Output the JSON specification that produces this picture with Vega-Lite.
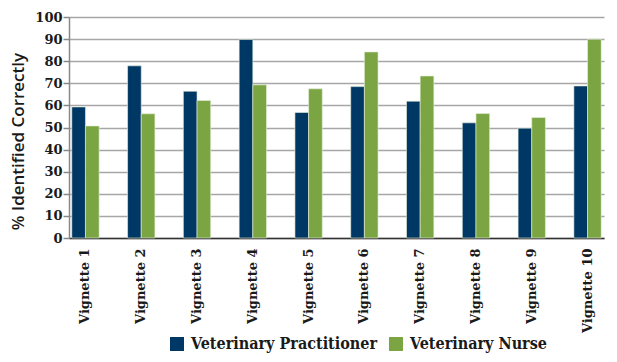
{
  "$schema": "https://vega.github.io/schema/vega-lite/v6.json",
  "width": 535,
  "height": 221,
  "autosize": "none",
  "padding": {"left": 69, "top": 17, "right": 13, "bottom": 124},
  "background": "white",
  "data": {"values": [
    {"v": "Vignette 1", "g": "Veterinary Practitioner", "p": 59.3},
    {"v": "Vignette 1", "g": "Veterinary Nurse", "p": 50.7},
    {"v": "Vignette 2", "g": "Veterinary Practitioner", "p": 77.9},
    {"v": "Vignette 2", "g": "Veterinary Nurse", "p": 56.2},
    {"v": "Vignette 3", "g": "Veterinary Practitioner", "p": 66.4},
    {"v": "Vignette 3", "g": "Veterinary Nurse", "p": 62.2},
    {"v": "Vignette 4", "g": "Veterinary Practitioner", "p": 89.8},
    {"v": "Vignette 4", "g": "Veterinary Nurse", "p": 69.3},
    {"v": "Vignette 5", "g": "Veterinary Practitioner", "p": 56.8},
    {"v": "Vignette 5", "g": "Veterinary Nurse", "p": 67.5},
    {"v": "Vignette 6", "g": "Veterinary Practitioner", "p": 68.5},
    {"v": "Vignette 6", "g": "Veterinary Nurse", "p": 84.2},
    {"v": "Vignette 7", "g": "Veterinary Practitioner", "p": 61.9},
    {"v": "Vignette 7", "g": "Veterinary Nurse", "p": 73.3},
    {"v": "Vignette 8", "g": "Veterinary Practitioner", "p": 52.1},
    {"v": "Vignette 8", "g": "Veterinary Nurse", "p": 56.3},
    {"v": "Vignette 9", "g": "Veterinary Practitioner", "p": 49.7},
    {"v": "Vignette 9", "g": "Veterinary Nurse", "p": 54.5},
    {"v": "Vignette 10", "g": "Veterinary Practitioner", "p": 68.8},
    {"v": "Vignette 10", "g": "Veterinary Nurse", "p": 89.9}
  ]},
  "mark": {"type": "bar", "stroke": "#e8f0dc", "strokeWidth": 0.6},
  "encoding": {
    "x": {
      "field": "v", "type": "nominal", "sort": null,
      "scale": {"paddingInner": 0.51, "paddingOuter": 0.05},
      "axis": {
        "title": null, "labelAngle": -90, "labelAlign": "right", "labelBaseline": "middle",
        "labelFont": "DejaVu Serif", "labelFontWeight": "bold", "labelFontSize": 13, "labelColor": "#1a1a1a",
        "labelPadding": 10, "ticks": false, "domainColor": "#333333", "domainWidth": 1.5
      }
    },
    "xOffset": {"field": "g", "type": "nominal", "sort": ["Veterinary Practitioner", "Veterinary Nurse"], "scale": {"paddingInner": 0}},
    "y": {
      "field": "p", "type": "quantitative",
      "scale": {"domain": [0, 100], "nice": false},
      "axis": {
        "title": "% Identified Correctly", "values": [0,10,20,30,40,50,60,70,80,90,100],
        "titleFont": "Open Sans", "titleFontWeight": 600, "titleFontSize": 17, "titleColor": "#1a1a1a",
        "titleAngle": -90, "titleX": -51, "titleY": 124, "titleAlign": "center", "titleBaseline": "middle",
        "labelFont": "DejaVu Serif", "labelFontWeight": "bold", "labelFontSize": 13, "labelColor": "#1a1a1a",
        "labelPadding": 1,
        "tickSize": 6, "tickColor": "#888888", "tickWidth": 1.5,
        "domainColor": "#888888", "domainWidth": 1.5,
        "grid": true, "gridColor": "#a6a6a6", "gridWidth": 1.5
      }
    },
    "color": {
      "field": "g", "type": "nominal", "sort": ["Veterinary Practitioner", "Veterinary Nurse"],
      "scale": {"domain": ["Veterinary Practitioner", "Veterinary Nurse"], "range": ["#003865", "#7aa542"]},
      "legend": {
        "title": null, "orient": "none", "direction": "horizontal",
        "legendX": 100, "legendY": 319,
        "symbolType": "square", "symbolSize": 196, "symbolStrokeWidth": 0,
        "labelFont": "DejaVu Serif Condensed", "labelFontSize": 16, "labelFontWeight": "bold", "labelColor": "#1a1a1a",
        "columnPadding": 10, "labelOffset": 6, "labelLimit": 300
      }
    }
  },
  "config": {"view": {"stroke": null}}
}
